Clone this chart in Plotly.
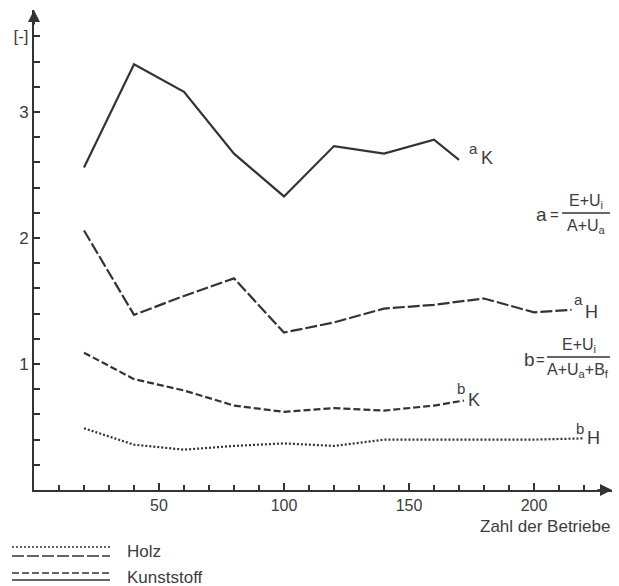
import plotly.graph_objects as go

# Kennzahlen je Betriebszahl
x_a_K = [20, 40, 60, 80, 100, 120, 140, 160, 170]
a_K = [2.56, 3.38, 3.16, 2.67, 2.33, 2.73, 2.67, 2.78, 2.62]

x_a_H = [20, 40, 60, 80, 100, 120, 140, 160, 180, 200, 215]
a_H = [2.06, 1.39, 1.54, 1.68, 1.25, 1.33, 1.44, 1.47, 1.52, 1.41, 1.43]

x_b_K = [20, 40, 60, 80, 100, 120, 140, 160, 172]
b_K = [1.09, 0.88, 0.79, 0.67, 0.62, 0.65, 0.63, 0.67, 0.71]

x_b_H = [20, 40, 60, 80, 100, 120, 140, 160, 180, 200, 220]
b_H = [0.49, 0.36, 0.32, 0.35, 0.37, 0.35, 0.40, 0.40, 0.40, 0.40, 0.41]

x_ticks = [50, 100, 150, 200]
y_ticks = [1, 2, 3, 3.6]
y_ticktext = ["1", "2", "3", "[-]"]

X_MAX = 231.2
Y_MAX = 3.81

INK = "#333333"
TXT = "#3c3c3c"
FONT = "Liberation Sans, Arial, sans-serif"

fig = go.Figure()

series = [
    (x_a_K, a_K, "solid", "a", "K"),
    (x_a_H, a_H, "12px,3px", "a", "H"),
    (x_b_K, b_K, "7px,3px", "b", "K"),
    (x_b_H, b_H, "2px,2px", "b", "H"),
]
for xs, ys, dash, main, sub in series:
    fig.add_trace(go.Scatter(
        x=xs, y=ys, mode="lines",
        line=dict(color=INK, width=2.2, dash=dash),
        showlegend=False, hoverinfo="skip",
    ))

annotations = []

# end-of-line labels: small letter raised, capital index beside it
label_offsets = {
    ("a", "K"): ((14, 11), (28, 2)),
    ("a", "H"): ((7, 10), (20, -2)),
    ("b", "K"): ((-3, 12), (10, 1)),
    ("b", "H"): ((-4, 10), (9, 0)),
}
for xs, ys, dash, main, sub in series:
    (mx, my), (sx, sy) = label_offsets[(main, sub)]
    annotations.append(dict(x=xs[-1], y=ys[-1], text=main, showarrow=False,
                            xshift=mx, yshift=my,
                            font=dict(family=FONT, size=15, color=TXT)))
    annotations.append(dict(x=xs[-1], y=ys[-1], text=sub, showarrow=False,
                            xshift=sx, yshift=sy,
                            font=dict(family=FONT, size=18, color=TXT)))

# axis arrowheads
annotations.append(dict(x=X_MAX, y=0, ax=-16, ay=0, text="", showarrow=True,
                        arrowhead=2, arrowsize=1.2, arrowwidth=2, arrowcolor=INK))
annotations.append(dict(x=0, y=Y_MAX, ax=0, ay=16, text="", showarrow=True,
                        arrowhead=2, arrowsize=1.2, arrowwidth=2, arrowcolor=INK))


def px_to_paper(px, py):
    # pixel position in the page -> paper coordinates of the plot area
    return (px - 34) / 578.0, (490 - py) / 480.0


def text_at(px, py, text, size=16, xanchor="center"):
    xp, yp = px_to_paper(px, py)
    annotations.append(dict(xref="paper", yref="paper", x=xp, y=yp,
                            xanchor=xanchor, yanchor="middle", showarrow=False,
                            text=text, font=dict(family=FONT, size=size, color=TXT)))


shapes = []


def hline(px0, px1, py, dash="solid", width=1.5):
    x0, y = px_to_paper(px0, py)
    x1, _ = px_to_paper(px1, py)
    shapes.append(dict(type="line", xref="paper", yref="paper",
                       x0=x0, x1=x1, y0=y, y1=y,
                       line=dict(color=INK, width=width, dash=dash)))


# x-axis title
text_at(612, 526, "Zahl der Betriebe", 17, xanchor="right")

# definitions of the two ratios
text_at(541, 214, "a", 19)
text_at(554, 214, "=", 15)
hline(562, 610, 213, width=1.3)
text_at(586, 201, "E+U<sub>i</sub>", 16)
text_at(586, 227, "A+U<sub>a</sub>", 16)

text_at(529, 359, "b", 19)
text_at(540, 359, "=", 15)
hline(547, 610, 357, width=1.3)
text_at(579, 345, "E+U<sub>i</sub>", 16)
text_at(578, 370, "A+U<sub>a</sub>+B<sub>f</sub>", 16)

# legend: Holz = dotted + long dash, Kunststoff = dashed + solid
hline(12, 110, 547, dash="2px,2px", width=1.5)
hline(12, 110, 556, dash="12px,3px", width=1.5)
text_at(125, 551, "Holz", 17, xanchor="left")
hline(12, 110, 573, dash="7px,3px", width=1.5)
hline(12, 110, 580, dash="solid", width=1.5)
text_at(125, 577, "Kunststoff", 17, xanchor="left")

fig.update_layout(
    width=619, height=586,
    margin=dict(l=34, r=7, t=10, b=96),
    paper_bgcolor="white", plot_bgcolor="white",
    showlegend=False,
    annotations=annotations,
    shapes=shapes,
    font=dict(family=FONT, color=TXT),
)

fig.update_xaxes(
    range=[0, X_MAX], showgrid=False, zeroline=False,
    showline=True, linecolor=INK, linewidth=2,
    tickmode="array", tickvals=x_ticks,
    ticks="inside", ticklen=7, tickwidth=1.5, tickcolor=INK,
    tickfont=dict(family=FONT, size=16, color=TXT),
    minor=dict(tickmode="array", tickvals=list(range(10, 230, 10)),
               ticks="inside", ticklen=5, tickwidth=1.5, tickcolor=INK),
)
fig.update_yaxes(
    range=[0, Y_MAX], showgrid=False, zeroline=False,
    showline=True, linecolor=INK, linewidth=2,
    tickmode="array", tickvals=y_ticks, ticktext=y_ticktext,
    ticks="inside", ticklen=6, tickwidth=1.5, tickcolor=INK,
    tickfont=dict(family=FONT, size=17, color=TXT),
    minor=dict(tickmode="array", tickvals=[round(0.2 * k, 1) for k in range(1, 19)],
               ticks="inside", ticklen=6, tickwidth=1.5, tickcolor=INK),
)

fig.write_html("out.html")
